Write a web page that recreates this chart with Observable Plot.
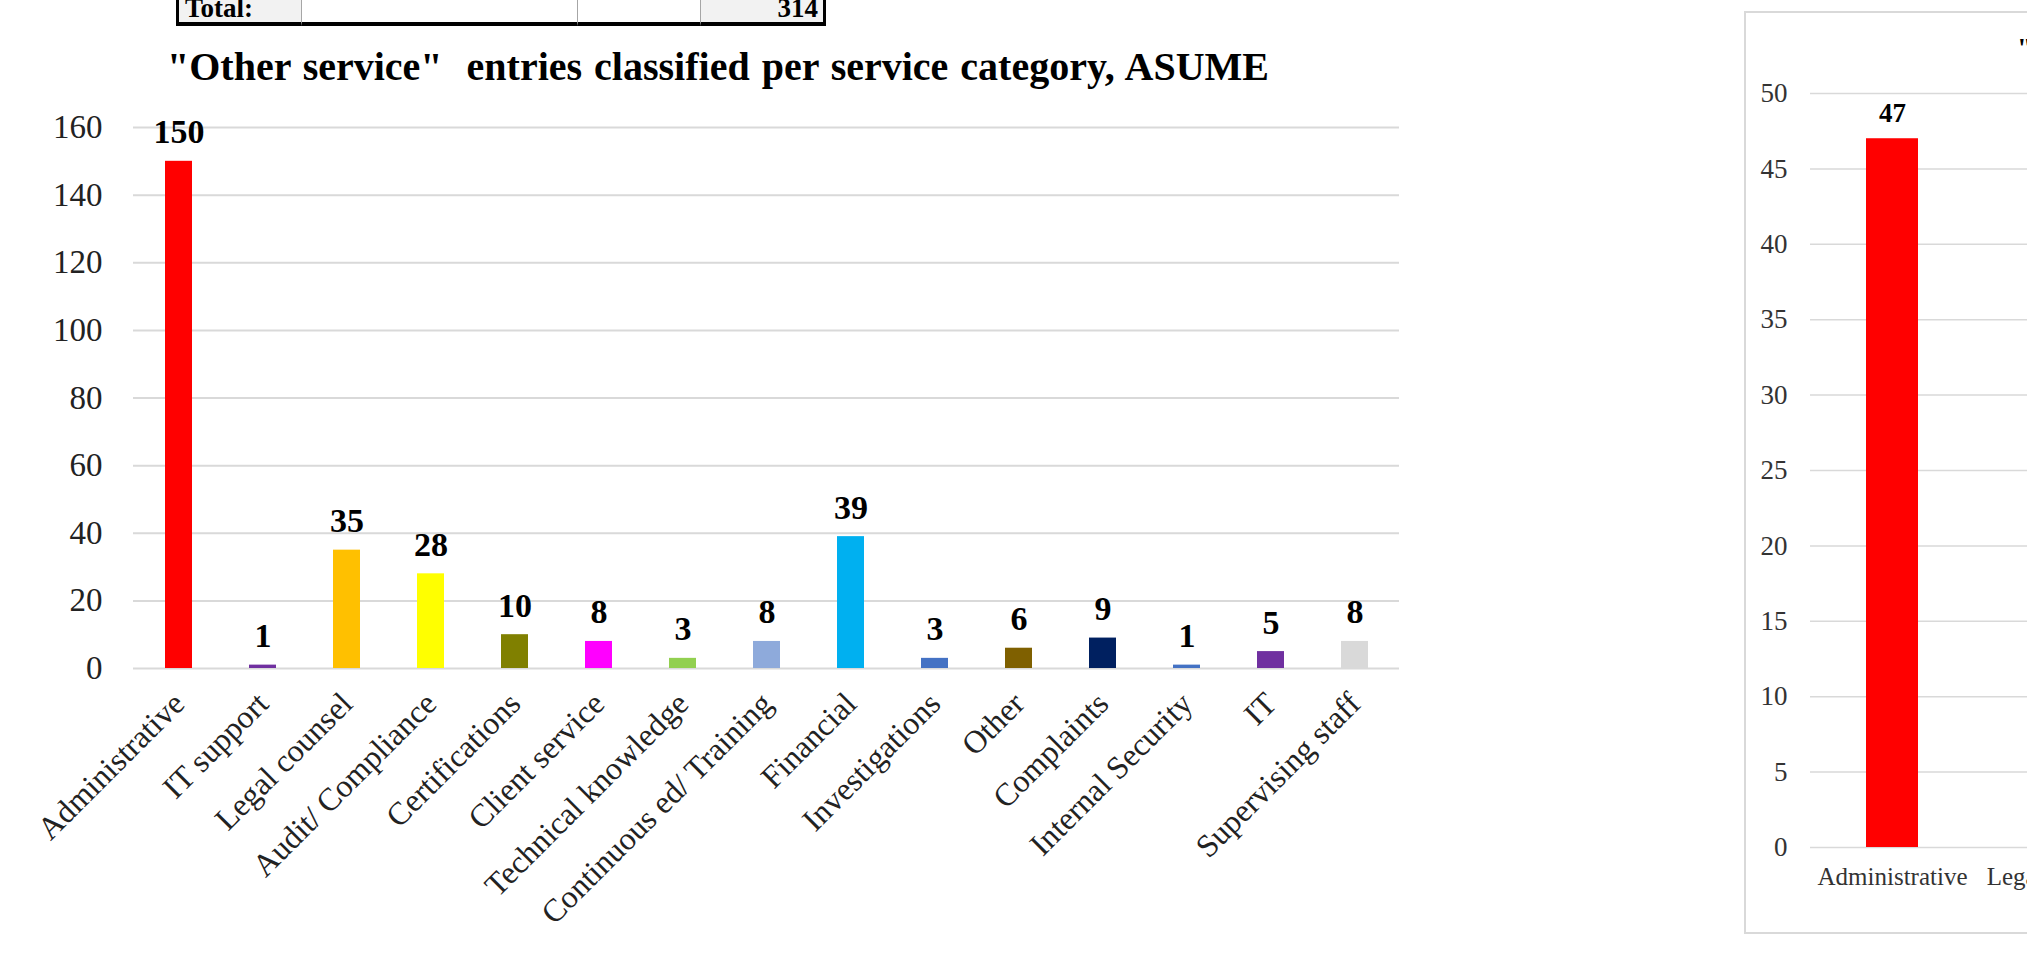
<!DOCTYPE html>
<html>
<head>
<meta charset="utf-8">
<script src="https://cdn.jsdelivr.net/npm/d3@7"></script>
<script src="https://cdn.jsdelivr.net/npm/@observablehq/plot@0.6"></script>
<style>
  html, body { margin: 0; padding: 0; overflow: hidden; background: #fff; }
  #root { position: relative; width: 2027px; height: 970px; overflow: hidden; background: #fff;
          font-family: "Liberation Serif", "Times New Roman", serif; }
  .cell { position: absolute; top: -20px; height: 46px; box-sizing: border-box; }
  .celltext { position: absolute; font-weight: bold; font-size: 27px; line-height: 27px; color: #000; white-space: pre; }
  #title { position: absolute; left: 167px; top: 47px; font-weight: bold; font-size: 40px; line-height: 40px;
           white-space: pre; word-spacing: 2px; color: #000; }
  #rtitle { position: absolute; left: 2017px; top: 34px; font-weight: bold; font-size: 28px; line-height: 28px;
            white-space: pre; color: #000; }
  #rframe { position: absolute; left: 1744px; top: 11px; width: 700px; height: 923px; box-sizing: border-box;
            border: 2px solid #d9d9d9; }
  #main { position: absolute; left: 0; top: 90px; }
  #right { position: absolute; left: 0; top: 0; }
</style>
</head>
<body>
<div id="root">
  <div id="table"></div>
  <div id="title"></div>
  <div id="rframe"><div id="right"></div></div>
  <div id="rtitle"></div>
  <div id="main"></div>
</div>
<script>
// ---------- data ----------
const categories = ["Administrative", "IT support", "Legal counsel", "Audit/ Compliance", "Certifications",
  "Client service", "Technical knowledge", "Continuous ed/ Training", "Financial", "Investigations",
  "Other", "Complaints", "Internal Security", "IT", "Supervising staff"];
const values = [150, 1, 35, 28, 10, 8, 3, 8, 39, 3, 6, 9, 1, 5, 8];
const barColors = ["#ff0000", "#7030a0", "#ffc000", "#ffff00", "#808000", "#ff00ff", "#92d050", "#8eaadb",
  "#00b0f0", "#4472c4", "#7f6000", "#002060", "#4472c4", "#7030a0", "#d9d9d9"];
const yTicks = [0, 20, 40, 60, 80, 100, 120, 140, 160];
const titleText = '"Other service"  entries classified per service category, ASUME';

// visible row of the table above the chart
const tableLabel = "Total:";
const tableTotal = "314";

// second chart (partly visible at the right edge)
const rightCategories = ["Administrative", "Legal counsel"];
const rightVisibleCategories = ["Administrative"];
const rightVisibleValues = [47];
const rightBarColor = "#ff0000";
const rightYTicks = [0, 5, 10, 15, 20, 25, 30, 35, 40, 45, 50];
const rightTitleText = '"Other service" entries classified per service category';

// ---------- table strip ----------
(function () {
  const t = document.getElementById("table");
  const cols = [[176, 301, "#f2f2f2"], [301, 577, "#ffffff"], [577, 700, "#ffffff"], [700, 826, "#f2f2f2"]];
  cols.forEach(([x0, x1, bg], i) => {
    const d = document.createElement("div");
    d.className = "cell";
    d.style.left = x0 + "px";
    d.style.width = (x1 - x0) + "px";
    d.style.background = bg;
    d.style.borderBottom = "4px solid #000";
    if (i === 0) d.style.borderLeft = "3px solid #000";
    else d.style.borderLeft = "1px solid #a6a6a6";
    if (i === cols.length - 1) d.style.borderRight = "3px solid #000";
    t.appendChild(d);
  });
  const a = document.createElement("div");
  a.className = "celltext"; a.style.left = "185px"; a.style.top = "-5px"; a.textContent = tableLabel;
  t.appendChild(a);
  const b = document.createElement("div");
  b.className = "celltext"; b.style.left = "700px"; b.style.width = "118px"; b.style.textAlign = "right";
  b.style.top = "-5px"; b.textContent = tableTotal;
  t.appendChild(b);
})();

document.getElementById("title").textContent = titleText;
document.getElementById("rtitle").textContent = rightTitleText;

// ---------- main chart ----------
const data = categories.map((c, i) => ({category: c, value: values[i], color: barColors[i]}));
const font = "Liberation Serif, Times New Roman, serif";

const main = Plot.plot({
  width: 1419,
  height: 868,
  marginLeft: 133,
  marginRight: 20,
  marginTop: 37,
  marginBottom: 290,
  style: {fontFamily: font, background: "transparent", overflow: "visible"},
  x: {domain: categories, paddingInner: 0.68, paddingOuter: 0.34, label: null},
  y: {domain: [0, 160], label: null},
  color: {type: "identity"},
  marks: [
    Plot.gridY(yTicks, {stroke: "#d9d9d9", strokeWidth: 2, strokeOpacity: 1}),
    Plot.barY(data, {x: "category", y: "value", fill: "color"}),
    Plot.text(data, {x: "category", y: "value", text: d => String(d.value), lineAnchor: "bottom", dy: -18,
      fontSize: 34, fontWeight: "bold", fill: "#000"}),
    Plot.axisY(yTicks, {tickSize: 0, tickPadding: 31, fontSize: 33, fill: "#222", label: null}),
    Plot.axisX({tickSize: 0, tickPadding: 30, tickRotate: -45, fontSize: 32, fill: "#222", label: null})
  ]
});
document.getElementById("main").appendChild(main);

// ---------- right chart ----------
const rightData = rightVisibleCategories.map((c, i) => ({category: c, value: rightVisibleValues[i]}));
const right = Plot.plot({
  width: 412,
  height: 917,
  marginLeft: 64,
  marginRight: 20,
  marginTop: 80,
  marginBottom: 83,
  style: {fontFamily: font, background: "transparent", overflow: "visible"},
  x: {domain: rightCategories, paddingInner: 0.683, paddingOuter: 0.3415, label: null},
  y: {domain: [0, 50], label: null},
  marks: [
    Plot.gridY(rightYTicks, {stroke: "#d9d9d9", strokeWidth: 1.5, strokeOpacity: 1}),
    Plot.barY(rightData, {x: "category", y: "value", fill: rightBarColor}),
    Plot.text(rightData, {x: "category", y: "value", text: d => String(d.value), lineAnchor: "bottom", dy: -17,
      fontSize: 27, fontWeight: "bold", fill: "#000"}),
    Plot.axisY(rightYTicks, {tickSize: 0, tickPadding: 23, fontSize: 27, fill: "#333", label: null}),
    Plot.axisX({tickSize: 0, tickPadding: 20, fontSize: 25, fill: "#333", label: null})
  ]
});
document.getElementById("right").appendChild(right);
</script>
</body>
</html>
